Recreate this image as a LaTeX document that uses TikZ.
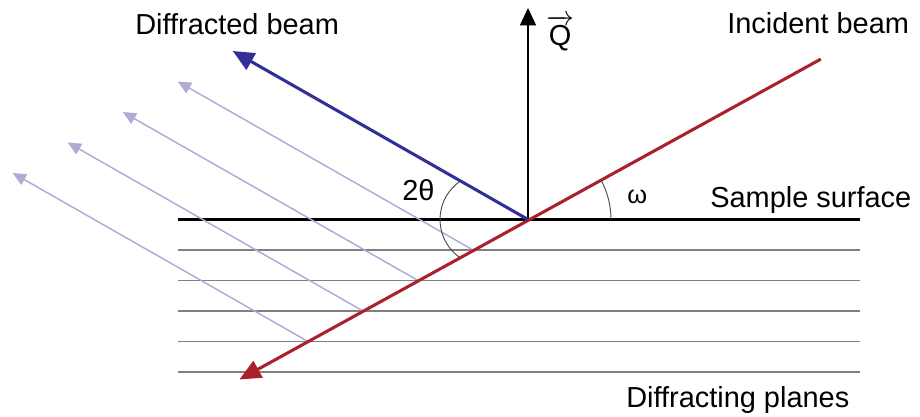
\documentclass[tikz,border=0pt]{standalone}
\usepackage{xcolor}
\definecolor{colIncident}{RGB}{170,32,44}
\definecolor{colDiffracted}{RGB}{48,48,150}
\colorlet{colFaint}{colDiffracted!40}
\usepackage{amsmath}
\usepackage{fontspec}
\setmainfont{Liberation Sans}
\usepackage{tikz}
\usetikzlibrary{arrows.meta, positioning, calc}

\begin{document}
\begin{tikzpicture}[
				x=0.75pt, y=-0.75pt,
				every node/.style={font=\fontsize{21.7}{26}\selectfont, inner sep=0pt},
				beamlabel/.style={anchor=base west},
				surface/.style={line width=2.3pt, black},
				plane/.style={line width=1pt, black!50},
				mainbeam/.style={line width=2.3pt, -{Triangle[length=16pt, width=14pt]}},
				faintbeam/.style={line width=1.1pt, colFaint, -{Triangle[length=10pt, width=9pt]}},
				anglearc/.style={line width=0.7pt, black!70}
			]
				\useasboundingbox (0,0) rectangle (920,417);
				% surface and lattice planes
				\coordinate (O) at (528,219.5);
				\draw[surface] (178,219.5) -- (860,219.5);
				\draw[plane] (178,250) -- (860,250);
				\draw[plane] (178,280.5) -- (860,280.5);
				\draw[plane] (178,311) -- (860,311);
				\draw[plane] (178,341.5) -- (860,341.5);
				\draw[plane] (178,372) -- (860,372);
				% beams reflected from deeper planes
				\coordinate (p1) at (473,250);
				\coordinate (p2) at (418,280.5);
				\coordinate (p3) at (363,311);
				\coordinate (p4) at (308,341.5);
				\draw[faintbeam] (p1) -- ($(p1)+(-295.3,-168.5)$);
				\draw[faintbeam] (p2) -- ($(p2)+(-295.3,-168.5)$);
				\draw[faintbeam] (p3) -- ($(p3)+(-295.3,-168.5)$);
				\draw[faintbeam] (p4) -- ($(p4)+(-295.3,-168.5)$);
				% scattering vector
				\coordinate (qtip) at (528,8);
				\draw[line width=1.1pt, -{Triangle[length=13pt, width=12pt]}] (O) -- (qtip);
				\node[beamlabel] (qlab) at (546,46) {$\overrightarrow{\text{Q}}$};
				% incident and diffracted beams
				\coordinate (src) at (820.8,59.1);
				\coordinate (inc) at ($(O)+(-288.6,160)$);
				\coordinate (dif) at ($(O)+(-295.3,-168.5)$);
				\draw[mainbeam, colIncident] (src) -- (inc);
				\draw[mainbeam, colDiffracted] (O) -- (dif);
				% angles
				\draw[anglearc] (611,219.5) arc[start angle=0, end angle=-29, radius=83];
				\draw[anglearc] (459.2,257.1) arc[start angle=126, end angle=234, radius=46.5];
				\node[beamlabel] (tth) at (402,200) {2θ};
				\node[beamlabel, font=\fontsize{19}{22}\selectfont] (om) at (627,203) {ω};
				% labels
				\node[beamlabel] (diflab) at (135,35) {Diffracted beam};
				\node[beamlabel] (inclab) at (727,34) {Incident beam};
				\node[beamlabel] (surflab) at (710,207) {Sample surface};
				\node[beamlabel] (planelab) at (626,407) {Diffracting planes};
			\end{tikzpicture}
\end{document}
